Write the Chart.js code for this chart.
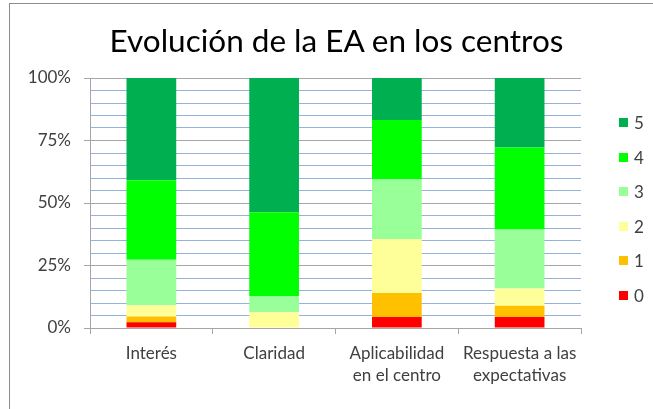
<!DOCTYPE html>
<html>
<head>
<meta charset="utf-8">
<script src="https://cdn.jsdelivr.net/npm/chart.js@4.4.1/dist/chart.umd.min.js"></script>
<style>
    html, body { margin: 0; padding: 0; background: #fff; overflow: hidden; }
    #wrap { position: relative; width: 653px; height: 409px; overflow: hidden; }
    #frame { position: absolute; left: 9px; top: 3px; width: 700px; height: 500px; border: 1px solid #8c8c8c; box-sizing: border-box; }
    #chart { position: absolute; left: 0; top: 0; }
    #title { position: absolute; left: 0; top: 21px; width: 673px; text-align: center; font-family: Lato, sans-serif; font-size: 31.5px; line-height: 38px; color: #000; white-space: nowrap; }
    #legend { position: absolute; left: 619px; top: 0; font-family: Lato, sans-serif; font-size: 17px; color: #404040; }
    .item { position: absolute; left: 0; display: flex; align-items: center; height: 20px; white-space: nowrap; }
    .box { width: 9px; height: 9px; margin-right: 6px; }
</style>
</head>
<body>
<div id="wrap">
    <div id="frame"></div>
    <canvas id="chart" width="653" height="409"></canvas>
    <div id="title">Evolución de la EA en los centros</div>
    <div id="legend"></div>
</div>
<script>
// categories
const categories = ['Interés', 'Claridad', ['Aplicabilidad', 'en el centro'], ['Respuesta a las', 'expectativas']];

// share of answers per score (%), one array per score
const score0 = [2.3, 0, 4.4, 4.4];
const score1 = [2.3, 0, 9.6, 4.5];
const score2 = [4.5, 6.3, 21.6, 6.9];
const score3 = [18.2, 6.5, 24.0, 23.6];
const score4 = [31.8, 33.5, 23.6, 32.8];
const score5 = [40.9, 53.7, 16.8, 27.8];

const seriesNames = ['0', '1', '2', '3', '4', '5'];
const seriesColors = ['#FF0000', '#FFC000', '#FFFF99', '#99FF99', '#00FF00', '#00B050'];
const majorTicks = [0, 25, 50, 75, 100];

const allSeries = [score0, score1, score2, score3, score4, score5];

const datasets = allSeries.map((values, i) => ({
    label: seriesNames[i],
    data: values,
    backgroundColor: seriesColors[i],
    borderWidth: 0,
    categoryPercentage: 1,
    barPercentage: 0.405,
}));

const textColor = '#404040';
const gridGray = '#a6a6a6';
const gridBlue = '#95b3d7';

new Chart(document.getElementById('chart'), {
    type: 'bar',
    data: { labels: categories, datasets },
    options: {
        responsive: false,
        animation: false,
        layout: { padding: { top: 78, right: 72, bottom: 0, left: 0 } },
        plugins: {
            legend: { display: false },
            tooltip: { enabled: false },
        },
        scales: {
            x: {
                stacked: true,
                afterFit: (scale) => { scale.height = 81; },
                border: { color: gridGray },
                grid: { offset: true, drawOnChartArea: false, drawTicks: true, tickLength: 6, color: gridGray },
                ticks: {
                    color: textColor,
                    padding: 8,
                    maxRotation: 0,
                    autoSkip: false,
                    font: { family: 'Lato', size: 17, lineHeight: 1.3 },
                },
            },
            y: {
                stacked: true,
                min: 0,
                max: 100,
                afterFit: (scale) => { scale.width = 90; },
                border: { color: gridGray },
                grid: {
                    color: (ctx) => majorTicks.includes(ctx.tick.value) ? gridGray : gridBlue,
                    tickColor: (ctx) => majorTicks.includes(ctx.tick.value) ? gridGray : 'rgba(0,0,0,0)',
                    tickLength: 6,
                },
                ticks: {
                    stepSize: 5,
                    autoSkip: false,
                    padding: 13,
                    color: textColor,
                    font: { family: 'Lato', size: 17 },
                    callback: (v) => majorTicks.includes(v) ? v + '%' : '',
                },
            },
        },
    },
});

// legend, highest score on top
const legend = document.getElementById('legend');
seriesNames.slice().reverse().forEach((name, i) => {
    const idx = seriesNames.length - 1 - i;
    const item = document.createElement('div');
    item.className = 'item';
    item.style.top = (122.7 + i * 34.5 - 10) + 'px';
    item.innerHTML = `<span class="box" style="background:${seriesColors[idx]}"></span><span>${name}</span>`;
    legend.appendChild(item);
});
</script>
</body>
</html>
